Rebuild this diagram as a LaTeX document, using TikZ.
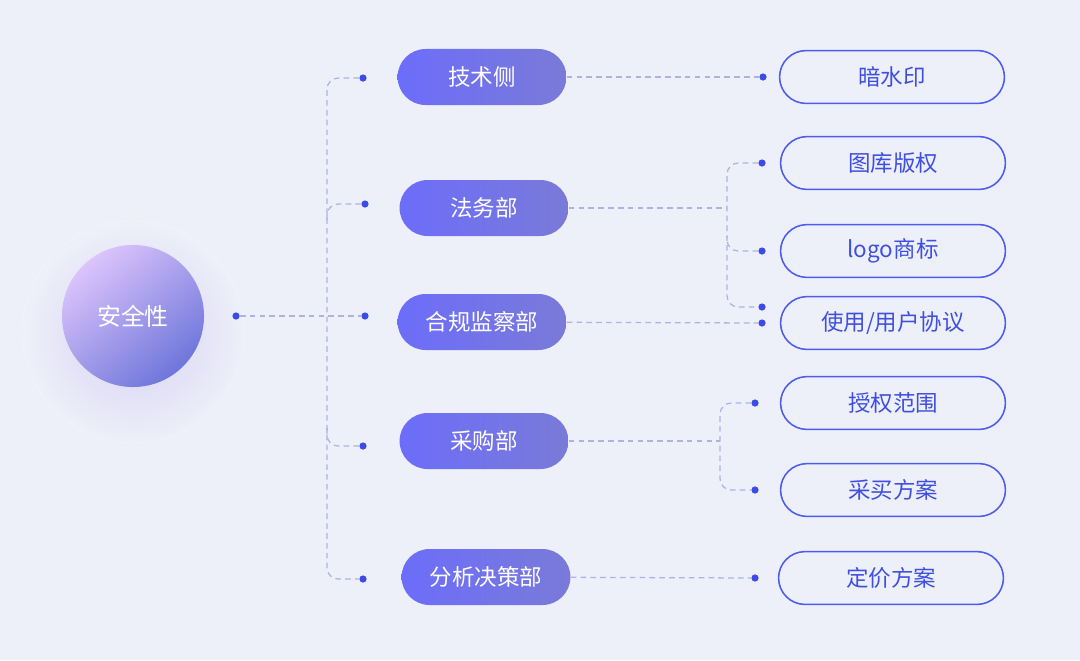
\documentclass[tikz,border=0pt]{standalone}
\usepackage{fontspec}
\setmainfont{Noto Sans CJK SC}
\usetikzlibrary{positioning}
\definecolor{bgc}{HTML}{EEF0F9}
\definecolor{deptl}{HTML}{6C6DFA}
\definecolor{deptr}{HTML}{7A7AD8}
\definecolor{itemc}{HTML}{4C5CF0}
\definecolor{itemt}{HTML}{3F4FE0}
\definecolor{dotc}{HTML}{3D4BE6}
\definecolor{linec}{HTML}{AEB2E2}
\definecolor{rootl}{HTML}{DCC4FC}
\definecolor{rootd}{HTML}{6E76DA}
\definecolor{glowc}{HTML}{D6D0F2}

\begin{document}
\begin{tikzpicture}[x=0.025cm, y=-0.025cm,
  root/.style={circle, minimum size=3.55cm, inner sep=0pt, top color=rootl, bottom color=rootd, shading angle=40, text=white, font=\fontsize{17}{20}\selectfont},
  dept/.style={rounded corners=0.7cm, minimum width=4.22cm, minimum height=1.4cm, inner sep=0pt, left color=deptl, right color=deptr, text=white, font=\fontsize{16}{19}\selectfont},
  item/.style={draw=itemc, line width=1.1pt, fill=bgc, rounded corners=0.66cm, minimum width=5.62cm, minimum height=1.32cm, inner sep=0pt, text=itemt, font=\fontsize{16}{19}\selectfont},
  dot/.style={circle, fill=dotc, inner sep=0pt, minimum size=0.18cm},
  link/.style={draw=linec, line width=0.9pt, dash pattern=on 4pt off 3pt, rounded corners=8pt}
]
\fill[bgc] (0,0) rectangle (1080,660);
\useasboundingbox (0,0) rectangle (1080,660);

% glow behind the root
\shade[inner color=glowc, outer color=bgc] (135,334) circle (112);
\draw[white, opacity=.25, line width=0.6pt] (133,332) circle (111);
\node[root] (sec) at (133,316) {安全性};

% departments
\node[dept] (jishu)  at (482,77)  {技术侧};
\node[dept] (fawu)   at (484,208) {法务部};
\node[dept] (hegui)  at (482,322) {合规监察部};
\node[dept] (caigou) at (484,441) {采购部};
\node[dept] (fenxi)  at (486,577) {分析决策部};

% items
\node[item] (anshui)  at (892,77)  {暗水印};
\node[item] (tuku)    at (893,163) {图库版权};
\node[item] (logo)    at (893,251) {logo商标};
\node[item] (shiyong) at (893,323) {使用/用户协议};
\node[item] (shouquan) at (893,403) {授权范围};
\node[item] (caimai)  at (893,490) {采买方案};
\node[item] (dingjia) at (891,578) {定价方案};

% dots
\node[dot] (d0) at (236,316) {};
\node[dot] (d1) at (363,78)  {};
\node[dot] (d2) at (365,204) {};
\node[dot] (d3) at (365,316) {};
\node[dot] (d4) at (363,446) {};
\node[dot] (d5) at (363,579) {};
\node[dot] (e0) at (763,77)  {};
\node[dot] (e1) at (762,163) {};
\node[dot] (e2) at (762,251) {};
\node[dot] (e3) at (762,307) {};
\node[dot] (e4) at (762,323) {};
\node[dot] (f1) at (755,403) {};
\node[dot] (f2) at (755,490) {};
\node[dot] (g1) at (755,578) {};

\coordinate (trunk) at (327,316);
\coordinate (b2) at (327,224);
\coordinate (b4) at (327,428);
\coordinate (j2) at (727,208);
\coordinate (j2b) at (727,236);
\coordinate (j4) at (720,441);

% left tree
\draw[link] (d0) -- (d3);
\draw[link] (d1) -| (trunk) |- (d5);
\draw[link] (d2) -| (b2);
\draw[link] (d4) -| (b4);

% right tree
\draw[link] (jishu) -- (e0);
\draw[link] (fawu) -- (j2);
\draw[link] (e1) -| (j2) |- (e3);
\draw[link] (e2) -| (j2b);
\draw[link] (hegui) -- (e4);
\draw[link] (caigou) -- (j4);
\draw[link] (f1) -| (j4) |- (f2);
\draw[link] (fenxi) -- (g1);
\end{tikzpicture}
\end{document}
